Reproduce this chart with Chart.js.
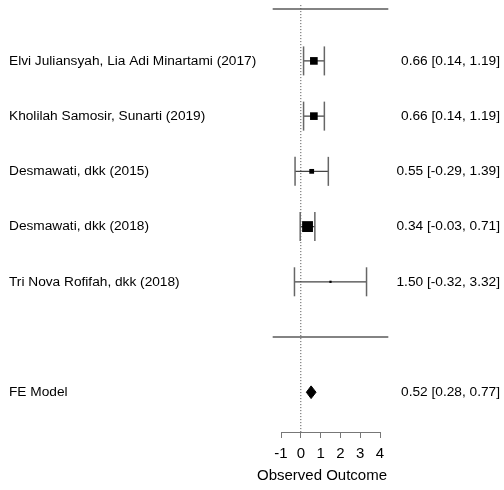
<!DOCTYPE html>
<html>
<head>
<meta charset="utf-8">
<script src="https://cdn.jsdelivr.net/npm/chart.js@4.4.1/dist/chart.umd.min.js"></script>
<style>
html,body{margin:0;padding:0;background:#fff;}
#wrap{width:504px;height:490px;position:relative;}
</style>
</head>
<body>
<div id="wrap"><canvas id="c" width="504" height="490"></canvas></div>
<script>
// ---- data ----
const studies = [
  "Elvi Juliansyah, Lia Adi Minartami (2017)",
  "Kholilah Samosir, Sunarti (2019)",
  "Desmawati, dkk (2015)",
  "Desmawati, dkk (2018)",
  "Tri Nova Rofifah, dkk (2018)"
];
const estimates = [0.66, 0.66, 0.55, 0.34, 1.50];
const lowerCI   = [0.14, 0.14, -0.29, -0.03, -0.32];
const upperCI   = [1.19, 1.19, 1.39, 0.71, 3.32];
const rows      = [5, 4, 3, 2, 1];
const modelLabel = "FE Model";
const modelEst = 0.52, modelLo = 0.28, modelHi = 0.77;
const modelRow = -1;
const xTicks = [-1, 0, 1, 2, 3, 4];
const axisTitle = "Observed Outcome";

// ---- styling/layout constants ----
const FONT = "Arial, 'Liberation Sans', sans-serif";
Chart.defaults.font.family = FONT;
Chart.defaults.font.size = 14;
const LINE_COL = "#5a5a5a";
const Y_MIN = -1.72, Y_MAX = 5.94;
const X_LINE_MIN = -1.42, X_LINE_MAX = 4.42;

// weights from CI widths (inverse variance)
const weights = lowerCI.map((lo, i) => { const se = (upperCI[i] - lo) / 3.92; return 1 / (se * se); });
const squareRadius = weights.map(w => (2.05 * Math.sqrt(w)) / Math.SQRT2);

// CI segments
const ciData = [];
rows.forEach((r, i) => { ciData.push({x: lowerCI[i], y: r}, {x: upperCI[i], y: r}, {x: null, y: null}); });
const capData = [];
rows.forEach((r, i) => { capData.push({x: lowerCI[i], y: r}, {x: upperCI[i], y: r}); });
const pointData = rows.map((r, i) => ({x: estimates[i], y: r}));
const dh = 0.115;
const diamond = [
  {x: modelLo, y: modelRow}, {x: modelEst, y: modelRow + dh},
  {x: modelHi, y: modelRow}, {x: modelEst, y: modelRow - dh}, {x: modelLo, y: modelRow}
];

const textPlugin = {
  id: 'forestText',
  afterDatasetsDraw(chart) {
    const ctx = chart.ctx, ys = chart.scales.y;
    ctx.save();
    ctx.fillStyle = '#000';
    ctx.font = "13.7px " + FONT;
    ctx.textBaseline = 'middle';
    rows.forEach((r, i) => {
      const py = ys.getPixelForValue(r);
      ctx.textAlign = 'left';
      ctx.fillText(studies[i], 9, py);
      ctx.textAlign = 'right';
      ctx.fillText(estimates[i].toFixed(2) + " [" + lowerCI[i].toFixed(2) + ", " + upperCI[i].toFixed(2) + "]", 500, py);
    });
    const my = ys.getPixelForValue(modelRow);
    ctx.textAlign = 'left';
    ctx.fillText(modelLabel, 9, my);
    ctx.textAlign = 'right';
    ctx.fillText(modelEst.toFixed(2) + " [" + modelLo.toFixed(2) + ", " + modelHi.toFixed(2) + "]", 500, my);
    // axis title
    ctx.font = "15px " + FONT;
    ctx.textAlign = 'center';
    ctx.fillText(axisTitle, 322, 476);
    ctx.restore();
  }
};

new Chart(document.getElementById('c'), {
  type: 'scatter',
  data: {
    datasets: [
      { type: 'line', order: 4, data: [{x: X_LINE_MIN, y: Y_MAX}, {x: X_LINE_MAX, y: Y_MAX}], borderColor: LINE_COL, borderWidth: 1.5, pointRadius: 0, clip: false },
      { type: 'line', order: 4, data: [{x: X_LINE_MIN, y: 0}, {x: X_LINE_MAX, y: 0}], borderColor: LINE_COL, borderWidth: 1.5, pointRadius: 0, clip: false },
      { type: 'line', order: 5, data: [{x: 0, y: Y_MAX + 0.07}, {x: 0, y: Y_MIN}], borderColor: '#444', borderWidth: 1, borderDash: [1, 2], pointRadius: 0, clip: false },
      { type: 'line', order: 3, data: ciData, borderColor: '#444', borderWidth: 1.2, pointRadius: 0, spanGaps: false, clip: false },
      { type: 'scatter', order: 2, data: capData, pointStyle: 'line', rotation: 90, pointRadius: 14.5, borderColor: '#666', borderWidth: 1.5, clip: false },
      { type: 'scatter', order: 0, data: pointData, pointStyle: 'rect', pointRadius: squareRadius, backgroundColor: '#000', borderWidth: 0, clip: false },
      { type: 'line', order: 0, data: diamond, borderColor: '#000', backgroundColor: '#000', borderWidth: 1, fill: 'shape', pointRadius: 0, clip: false, tension: 0 }
    ]
  },
  options: {
    responsive: false,
    animation: false,
    events: [],
    layout: { autoPadding: false, padding: { left: 281, right: 124, top: 9, bottom: 0 } },
    plugins: { legend: { display: false }, tooltip: { enabled: false } },
    scales: {
      x: {
        type: 'linear', min: -1, max: 4,
        afterBuildTicks(s) { s.ticks = xTicks.map(v => ({value: v})); },
        afterFit(s) { s.height = 58; },
        grid: { display: true, drawOnChartArea: false, drawTicks: true, tickLength: 6, color: '#777', lineWidth: 1 },
        border: { display: true, color: '#777', width: 1 },
        ticks: { color: '#000', font: { family: FONT, size: 15 }, padding: 7, maxRotation: 0, autoSkip: false },
        title: { display: false }
      },
      y: { type: 'linear', min: Y_MIN, max: Y_MAX, display: false }
    }
  },
  plugins: [textPlugin]
});
</script>
</body>
</html>
